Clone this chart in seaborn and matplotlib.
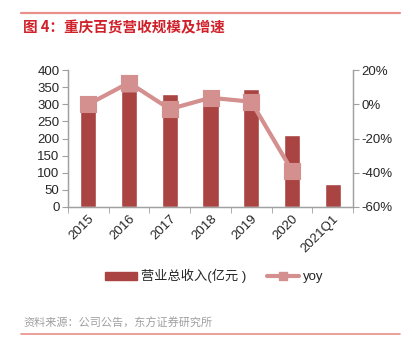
import numpy as np
import pandas as pd
import seaborn as sns
import matplotlib.pyplot as plt
from matplotlib.patches import Patch
from matplotlib.lines import Line2D
from matplotlib.ticker import FuncFormatter, FixedLocator

# data
periods = ['2015', '2016', '2017', '2018', '2019', '2020', '2021Q1']
revenue = [300, 339, 330, 340, 344, 210, 66]
yoy_periods = ['2015', '2016', '2017', '2018', '2019', '2020']
yoy = [0.0, 12.6, -2.8, 3.8, 1.5, -38.8]

bar_color = '#A94442'
line_color = '#D48F8F'
rule_color = '#E8908A'

sns.set_style('white')
plt.rcParams['font.family'] = ['Liberation Sans', 'Noto Sans CJK SC', 'DejaVu Sans']

df_rev = pd.DataFrame({'period': periods, 'revenue': revenue})
df_yoy = pd.DataFrame({'period': yoy_periods, 'yoy': yoy})

fig = plt.figure(figsize=(4.12, 3.52), dpi=100)
ax = fig.add_axes([0.165, 0.412, 0.692, 0.389])

sns.barplot(data=df_rev, x='period', y='revenue', order=periods,
            color=bar_color, width=0.4, saturation=1, ax=ax)
ax.set_ylim(0, 400)
ax.set_yticks(range(0, 401, 50))
ax.set_xlim(-0.5, len(periods) - 0.5)
ax.set_xlabel('')
ax.set_ylabel('')

ax2 = ax.twinx()
sns.pointplot(data=df_yoy, x='period', y='yoy', order=periods,
              color=line_color, markers='s', markersize=10,
              linewidth=3.0, ax=ax2)
ax2.set_ylim(-60, 20)
ax2.set_yticks(range(-60, 21, 20))
ax2.yaxis.set_major_formatter(FuncFormatter(lambda v, p: f'{v:.0f}%'))
ax2.set_ylabel('')
ax2.set_xlim(-0.5, len(periods) - 0.5)

for a in (ax, ax2):
    a.spines['top'].set_visible(False)
    for s in ('left', 'right', 'bottom'):
        a.spines[s].set_color('#A0A0A0')
        a.spines[s].set_linewidth(0.9)

ax.tick_params(axis='y', length=4, color='#A0A0A0', labelsize=9.5, pad=2, left=True)
ax2.tick_params(axis='y', length=4, color='#A0A0A0', labelsize=9.5, pad=2, right=True)
ax.set_xticks(range(len(periods)))
ax.set_xticklabels(periods, rotation=45, ha='right', rotation_mode='anchor', fontsize=9.5)
ax.tick_params(axis='x', which='major', length=0, pad=4)
ax.xaxis.set_minor_locator(FixedLocator(np.arange(-0.5, len(periods), 1.0)))
ax.tick_params(axis='x', which='minor', length=4, color='#A0A0A0', bottom=True)
ax2.tick_params(axis='x', which='both', length=0)

handles = [Patch(facecolor=bar_color, edgecolor=bar_color),
           Line2D([0], [0], color=line_color, lw=3, marker='s', markersize=6)]
fig.legend(handles, ['营业总收入(亿元 )', 'yoy'], loc='center',
           bbox_to_anchor=(0.52, 0.215), ncol=2, frameon=False, fontsize=9.5,
           handlelength=2.4, handleheight=0.6, columnspacing=1.6, handletextpad=0.3)

# header / footer rules and texts
fig.add_artist(Line2D([0.051, 0.971], [0.963, 0.963], color=rule_color, lw=1.6))
fig.text(0.056, 0.923, '图 4：重庆百货营收规模及增速', color='#D0202A',
         fontsize=10.5, fontweight='bold', va='center',
         family=['Noto Sans CJK SC', 'DejaVu Sans'])
fig.text(0.056, 0.082, '资料来源：公司公告，东方证券研究所', color='#A0A0A0',
         fontsize=8, va='center', family=['Noto Sans CJK SC', 'DejaVu Sans'])
fig.add_artist(Line2D([0.051, 0.971], [0.051, 0.051], color=rule_color, lw=1.2))

fig.savefig('out.png', dpi=100)
